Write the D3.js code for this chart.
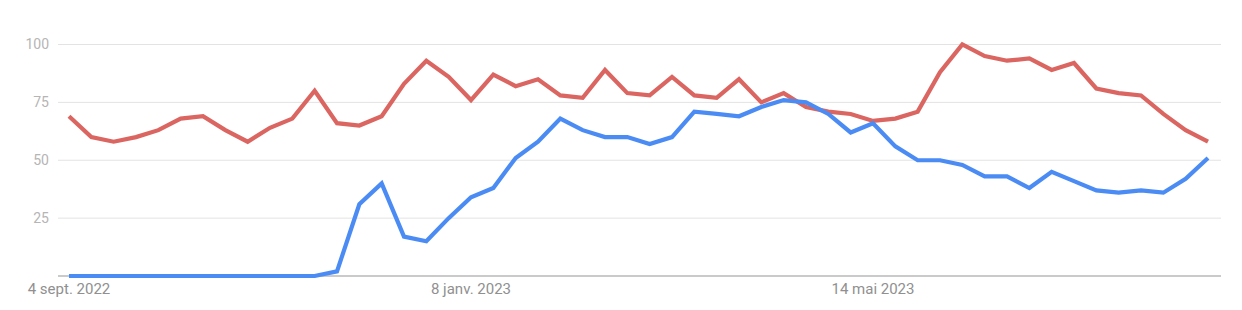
<!DOCTYPE html>
<html>
<head>
<meta charset="utf-8">
<script src="https://cdn.jsdelivr.net/npm/d3@7"></script>
<style>
  html, body { margin: 0; padding: 0; background: #fff; }
  svg { display: block; font-family: Roboto, "Noto Sans", Arial, sans-serif; }
</style>
</head>
<body>
<svg id="chart" width="1242" height="310"></svg>
<script>
const startWeek = "2022-09-04"

const redSeries = [69, 60, 58, 60, 63, 68, 69, 63, 58, 64, 68, 80, 66, 65, 69, 83, 93, 86, 76, 87,
  82, 85, 78, 77, 89, 79, 78, 86, 78, 77, 85, 75, 79, 73, 71, 70, 67, 68, 71, 88,
  100, 95, 93, 94, 89, 92, 81, 79, 78, 70, 63, 58]

const blueSeries = [0, 0, 0, 0, 0, 0, 0, 0, 0, 0, 0, 0, 2, 31, 40, 17, 15, 25, 34, 38,
  51, 58, 68, 63, 60, 60, 57, 60, 71, 70, 69, 73, 76, 75, 70, 62, 66, 56, 50, 50,
  48, 43, 43, 38, 45, 41, 37, 36, 37, 36, 42, 51]

const yTicks = [25, 50, 75, 100]
const xTickDates = ["2022-09-04", "2023-01-08", "2023-05-14"]
const xTickLabels = ["4 sept. 2022", "8 janv. 2023", "14 mai 2023"]

const parse = d3.utcParse("%Y-%m-%d")
const t0 = parse(startWeek)
const dates = redSeries.map((_, i) => d3.utcWeek.offset(t0, i))

const svg = d3.select("#chart")
const gridLeft = 58, gridRight = 1221

const x = d3.scaleUtc().domain(d3.extent(dates)).range([69, 1208])
const y = d3.scaleLinear().domain([0, 100]).range([276, 44.5])

// grid
svg.append("g")
  .selectAll("line")
  .data(yTicks)
  .join("line")
  .attr("x1", gridLeft)
  .attr("x2", gridRight)
  .attr("y1", (d) => y(d))
  .attr("y2", (d) => y(d))
  .attr("stroke", "#e3e3e3")
  .attr("stroke-width", 1)

svg.append("g")
  .selectAll("text")
  .data(yTicks)
  .join("text")
  .attr("x", 49)
  .attr("y", (d) => y(d))
  .attr("dy", "0.35em")
  .attr("text-anchor", "end")
  .attr("font-size", 14)
  .attr("fill", "#b5b5b5")
  .text((d) => d)

// baseline
svg.append("line")
  .attr("x1", gridLeft)
  .attr("x2", gridRight)
  .attr("y1", y(0))
  .attr("y2", y(0))
  .attr("stroke", "#b8b8b8")
  .attr("stroke-width", 1.5)

const line = d3.line()
  .x((d, i) => x(dates[i]))
  .y((d) => y(d))

svg.append("path")
  .datum(redSeries)
  .attr("fill", "none")
  .attr("stroke", "#db6560")
  .attr("stroke-width", 4.2)
  .attr("d", line)

svg.append("path")
  .datum(blueSeries)
  .attr("fill", "none")
  .attr("stroke", "#4b8bf4")
  .attr("stroke-width", 4.2)
  .attr("d", line)

svg.append("g")
  .selectAll("text")
  .data(xTickDates)
  .join("text")
  .attr("x", (d) => x(parse(d)))
  .attr("y", 293.5)
  .attr("text-anchor", "middle")
  .attr("font-size", 15)
  .attr("fill", "#909090")
  .text((d, i) => xTickLabels[i])
</script>
</body>
</html>
